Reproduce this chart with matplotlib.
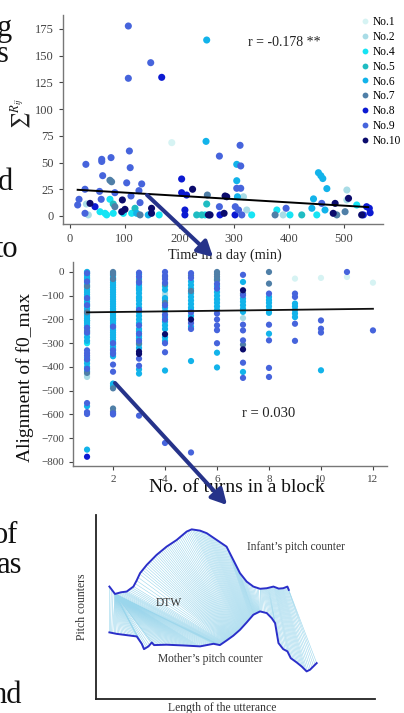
import numpy as np
import matplotlib
matplotlib.use('Agg')
import matplotlib.pyplot as plt
from matplotlib.patches import FancyArrowPatch, ArrowStyle
from matplotlib.collections import LineCollection
from matplotlib.lines import Line2D

plt.rcParams['font.family'] = ['Liberation Serif', 'DejaVu Serif']
plt.rcParams['mathtext.fontset'] = 'stix'

# ---------------- data ----------------
subject_ids = [1, 2, 4, 5, 6, 7, 8, 9, 10]
subject_labels = ['No.1', 'No.2', 'No.4', 'No.5', 'No.6', 'No.7', 'No.8', 'No.9', 'No.10']
subject_colors = ['#d6f3f3', '#a9dce6', '#16e4f4', '#1fbcc2', '#12b3ea',
                  '#4f7fa7', '#0c1ad2', '#4664dc', '#0b0b6c']

# top panel: time in a day (min) vs sum R_ij
time_min = [106.6, 249.8, 147.5, 106.6, 167.6, 186, 248.6, 310.8, 273, 108.5, 29, 58, 58, 75, 110,
            59.7, 73, 76, 103.6, 131, 304.7, 312, 304.7, 454, 458.4, 462, 469.4, 445, 204, 224,
            204, 213, 27.4, 54, 82, 126, 57, 16.5, 14, 30, 36.6, 45.7, 73, 79, 82, 95.7, 100.5,
            111.5, 128, 118.8, 112.7, 94.5, 97.5, 27.4, 33.5, 54.8, 64, 67, 79, 121.9, 128, 143,
            149, 149, 163, 210, 210, 231.5, 240.7, 246.8, 252.9, 255, 249.8, 251, 256, 273, 274,
            281.6, 283.4, 286.4, 304.7, 312, 306, 302, 308, 301.6, 314, 317, 323, 332, 378, 374.8,
            389.5, 394.9, 402, 423.5, 442, 451, 460, 466, 481, 484.5, 487.6, 506, 506, 509, 502.7,
            524, 533, 542, 547, 548.5, 536]
sum_rij = [177.7, 164.6, 143.4, 128.8, 129.7, 68.6, 69.8, 66.1, 56, 60.8, 48.3, 53, 51, 54.6, 45.2,
           37.7, 33.4, 32, 31, 30, 48.3, 46.8, 33, 40.5, 37.7, 35, 25.6, 16, 34.6, 25,
           21.8, 19.6, 25, 23, 21.8, 23.7, 15.6, 15.6, 10.3, 11.2, 11.8, 8.7, 15.6, 11.2, 8.7, 15, 6.2,
           18.7, 12.5, 7.2, 2.5, 4, 2.5, 2.5, 1, 4, 2.5, 1, 2.5, 2.5, 1, 1,
           2.5, 7.2, 1, 1, 5.6, 1, 1, 1, 1, 1, 11.2, 19.6, 1, 8.7, 1,
           2.5, 18.7, 18, 25.9, 25.9, 18, 8.7, 5.6, 1, 1, 18, 5.6, 1, 5.6, 1,
           1, 7.2, 1, 1, 7.2, 1, 11.8, 5.6, 2.5, 11.8, 1, 24.3, 15, 16.5, 4,
           10.3, 1, 8.7, 7.2, 3, 1]
top_subject = [9, 6, 9, 9, 8, 1, 6, 9, 9, 9, 9, 9, 9, 9, 9,
               9, 7, 7, 9, 9, 6, 9, 6, 6, 6, 6, 6, 6, 8, 10,
               8, 8, 9, 9, 9, 9, 9, 9, 9, 2, 10, 8, 4, 5, 7, 10, 10,
               9, 9, 5, 4, 10, 4, 9, 2, 4, 4, 4, 4, 6, 7, 6,
               10, 10, 4, 8, 8, 5, 5, 4, 10, 5, 5, 7, 10, 9, 8,
               10, 10, 10, 9, 9, 6, 9, 9, 8, 9, 2, 2, 4, 4, 7,
               2, 9, 4, 5, 6, 4, 9, 6, 10, 10, 7, 2, 2, 10, 7,
               4, 10, 8, 8, 8, 8]
top_reg_x = [14, 545]
top_reg_y = [24.5, 8.3]
top_r_text = 'r = -0.178 **'

# middle panel: No. of turns in a block vs alignment of f0_max (per column)
align_c1 = [0, -8, -16, -25, -35, -45, -55, -65, -75, -85, -95, -105, -115, -125, -135, -145, -155,
            -165, -175, -185, -195, -205, -215, -225, -235, -245, -260, -275, -290, -360, -372,
            -385, -400, -418, -565, -748,
            -5, -40, -110, -140, -235, -255, -330, -342, -352, -368, -408, -552, -590, -598,
            0, -180, -432, -442, -60, -170, -250, -425, -205, -30, -300, -778]
subj_c1 = [6] * 36 + [9] * 14 + [2] * 4 + [7] * 4 + [5] + [4] * 2 + [8]
align_c2 = [-5, -15, -25, -35, -45, -55, -65, -75, -85, -95, -105, -115, -125, -135, -145, -155,
            -165, -175, -185, -195, -205, -215, -225, -235, -245, -255, -265, -275, -285, -295,
            -305, -315, -325, -340, -355, -470, -480,
            0, -10, -30, -575, -588, -490,
            -230, -300, -330, -345, -390, -420, -595, -600, -160, -200]
subj_c2 = [6] * 37 + [7] * 6 + [9] * 8 + [2] + [4]
align_c3 = [-3, -20, -45, -160, -225, -260, -290, -365, -395, -605,
            -10, -30, -55, -65, -75, -90, -105, -120, -135, -150, -170, -185, -200, -215, -240,
            -250, -270, -280, -305, -320, -410, -428,
            -70, -110, -80, -40, -300, -335, -345]
subj_c3 = [9] * 10 + [6] * 22 + [5] * 2 + [2] + [7] * 2 + [10] * 2
align_c4 = [0, -15, -30, -45, -140, -180, -200, -300, -338, -720,
            -60, -75, -110, -120, -150, -165, -190, -210, -225, -240, -275, -290, -415,
            -90, -100, -20, -50, -130, -262]
subj_c4 = [9] * 10 + [6] * 13 + [2] * 2 + [7] * 3 + [10]
align_c5 = [-5, -25, -170, -215, -240, -760,
            -40, -55, -70, -90, -105, -120, -135, -150, -160, -185, -230, -375,
            -15, -80, -200]
subj_c5 = [9] * 6 + [6] * 12 + [7] * 2 + [10]
align_c6 = [0, -10, -20, -35, -50, -70, -175, -200, -225, -245, -300,
            -30, -60, -85, -100, -115, -130, -145, -160, -340, -402, -120]
subj_c6 = [7] * 4 + [9] * 7 + [6] * 10 + [2]
align_c7 = [-12, -98, -222, -246, -288, -382, -446, -42, -112, -125, -140, -155, -168, -421,
            -77, -326, -91, -306, -194]
subj_c7 = [9] * 7 + [6] * 7 + [10] * 2 + [7] * 2 + [2]
align_c8 = [0, -49, -91, -222, -288, -404, -442, -105, -118, -130, -145, -160, -172, -260]
subj_c8 = [7] * 2 + [9] * 5 + [6] * 7
align_c9 = [-28, -91, -105, -218, -290, -133, -145, -160, -175, -190]
subj_c9 = [1] + [9] * 4 + [6] * 5
align_c10 = [-25, -204, -239, -255, -414]
subj_c10 = [1, 9, 9, 9, 6]
align_c11 = [0, -21]
subj_c11 = [9, 1]
align_c12 = [-45, -246]
subj_c12 = [1, 9]
mid_reg_x = [1, 12]
mid_reg_y = [-170, -155]
mid_r_text = 'r = 0.030'

# bottom panel: DTW illustration (length of utterance vs pitch, arbitrary units)
infant_x = [4.8, 6.8, 9.0, 11.0, 13.4, 14.6, 15.8, 18.2, 21.7, 25.3, 28.9, 32.5, 34.3, 37.3, 39.7,
            43.3, 46.8, 49.2, 51.6, 54.0, 56.4, 58.8, 61.2, 63.6, 65.5, 67.1, 68.6, 69.1]
infant_y = [61.1, 57.1, 58.0, 58.4, 61.1, 64.5, 68.4, 72.9, 78.3, 82.8, 86.4, 91.0, 92.2, 91.5, 90.1,
            86.4, 82.8, 75.6, 68.4, 63.8, 61.1, 59.9, 60.2, 61.1, 60.0, 60.2, 61.1, 59.3]
mother_x = [4.8, 7.4, 11.0, 14.6, 16.4, 17.2, 18.8, 20.0, 20.8, 25.3, 31.3, 37.3, 42.1, 44.4, 46.8,
            49.2, 51.6, 54.0, 56.4, 58.8, 61.2, 63.0, 64.2, 64.8, 65.4, 67.1, 68.6, 69.8, 71.9,
            73.7, 75.5, 76.7, 79.1]
mother_y = [36.2, 35.4, 34.7, 34.0, 30.0, 27.1, 28.6, 30.7, 29.3, 29.5, 29.1, 28.6, 30.0, 29.3, 31.8,
            34.4, 37.6, 41.6, 45.8, 47.6, 46.7, 43.9, 41.2, 35.8, 30.4, 27.1, 25.9, 22.2, 19.9,
            17.7, 15.0, 15.9, 19.5]
# warping path anchors (infant position <-> mother position)
warp_infant = [4.8, 6.8, 6.8, 58.8, 69.1]
warp_mother = [4.8, 6.0, 44.0, 58.8, 79.1]

# ---------------- figure ----------------
W, H = 404, 713
fig = plt.figure(figsize=(W / 100, H / 100), dpi=100)


def px_box(l, t, r, b):
    return [l / W, 1 - b / H, (r - l) / W, (b - t) / H]


def fx(x):
    return x / W


def fy(y):
    return 1 - y / H


color_of = dict(zip(subject_ids, subject_colors))
tick_col = '#444444'
spine_col = '#777777'

# --- top panel ---
ax1 = fig.add_axes(px_box(63, 15, 383, 224))
tx = np.array(time_min)
ty = np.array(sum_rij)
ts = np.array(top_subject)
for sid in subject_ids:
    m = ts == sid
    ax1.scatter(tx[m], ty[m], s=26, color=color_of[sid], edgecolors='none', zorder=2)
ax1.plot(top_reg_x, top_reg_y, color='black', lw=1.4, zorder=3)
ax1.set_xlim(-12.8, 572)
ax1.set_ylim(-7.5, 188)
ax1.set_xticks([0, 100, 200, 300, 400, 500])
ax1.set_yticks([0, 25, 50, 75, 100, 125, 150, 175])
for s in ['top', 'right']:
    ax1.spines[s].set_visible(False)
for s in ['left', 'bottom']:
    ax1.spines[s].set_color(spine_col)
    ax1.spines[s].set_linewidth(1.0)
ax1.tick_params(labelsize=9, colors=tick_col, length=3, width=0.8)
ax1.text(325, 162, top_r_text, fontsize=10, va='center', ha='left', color='#222222')
fig.text(fx(225), fy(255), 'Time in a day (min)', fontsize=10.3, ha='center', va='center',
         color='#222222')
fig.text(fx(21), fy(113), r'$\sum{}^{R_{ij}}$', fontsize=13, rotation=90, ha='center',
         va='center', color='#222222')

handles = [Line2D([], [], ls='none', marker='o', markersize=4.2, markerfacecolor=c,
                  markeredgecolor='none') for c in subject_colors]
fig.legend(handles, subject_labels, loc='upper left', bbox_to_anchor=(fx(361), fy(16)),
           frameon=False, fontsize=8.3, handlelength=0.7, handletextpad=0.35,
           labelspacing=0.25, borderpad=0, borderaxespad=0)

# --- middle panel ---
ax2 = fig.add_axes(px_box(73, 262, 387, 466))
cols = [(1, align_c1, subj_c1), (2, align_c2, subj_c2), (3, align_c3, subj_c3),
        (4, align_c4, subj_c4), (5, align_c5, subj_c5), (6, align_c6, subj_c6),
        (7, align_c7, subj_c7), (8, align_c8, subj_c8), (9, align_c9, subj_c9),
        (10, align_c10, subj_c10), (11, align_c11, subj_c11), (12, align_c12, subj_c12)]
mx, my, ms = [], [], []
for t, a, sb in cols:
    mx += [t] * len(a)
    my += list(a)
    ms += list(sb)
mx = np.array(mx)
my = np.array(my)
ms = np.array(ms)
for sid in subject_ids:
    m = ms == sid
    ax2.scatter(mx[m], my[m], s=20, color=color_of[sid], edgecolors='none', zorder=2)
ax2.plot(mid_reg_x, mid_reg_y, color='#111111', lw=1.3, zorder=3)
ax2.set_xlim(0.46, 12.54)
ax2.set_ylim(-817, 42)
ax2.set_xticks([2, 4, 6, 8, 10, 12])
ax2.set_yticks([0, -100, -200, -300, -400, -500, -600, -700, -800])
for s in ['top', 'right']:
    ax2.spines[s].set_visible(False)
for s in ['left', 'bottom']:
    ax2.spines[s].set_color(spine_col)
    ax2.spines[s].set_linewidth(1.0)
ax2.tick_params(labelsize=8, colors=tick_col, length=3, width=0.8)
ax2.text(6.96, -598, mid_r_text, fontsize=10.5, va='center', ha='left', color='#222222')
fig.text(fx(25), fy(377), 'Alignment of f0_max', fontsize=14, rotation=90, ha='center',
         va='center', color='#111111')
fig.text(fx(237), fy(488), 'No. of turns in a block', fontsize=14, ha='center', va='center',
         color='#111111')

# --- bottom panel: DTW ---
ax3 = fig.add_axes(px_box(96, 515, 375, 699))
ax3.set_xlim(0, 100)
ax3.set_ylim(0, 100)
ax3.set_xticks([])
ax3.set_yticks([])
for s in ['top', 'right']:
    ax3.spines[s].set_visible(False)
for s in ['left', 'bottom']:
    ax3.spines[s].set_color('#222222')
    ax3.spines[s].set_linewidth(1.3)

segs = []
for i in range(len(warp_infant) - 1):
    i0, i1 = warp_infant[i], warp_infant[i + 1]
    m0, m1 = warp_mother[i], warp_mother[i + 1]
    n = max(2, int(max(abs(i1 - i0), abs(m1 - m0)) / 0.55))
    for t in np.linspace(0, 1, n, endpoint=False):
        xi = i0 + t * (i1 - i0)
        xm = m0 + t * (m1 - m0)
        segs.append([(xi, np.interp(xi, infant_x, infant_y)),
                     (xm, np.interp(xm, mother_x, mother_y))])
segs.append([(infant_x[-1], infant_y[-1]), (mother_x[-1], mother_y[-1])])
ax3.add_collection(LineCollection(segs, colors='#9ad6ec', linewidths=0.4, zorder=1))
ax3.plot(infant_x, infant_y, color='#2b2fc9', lw=1.4, zorder=3)
ax3.plot(mother_x, mother_y, color='#2b2fc9', lw=1.4, zorder=3)
ax3.text(54.0, 82.5, 'Infant\u2019s pitch counter', fontsize=8.3, ha='left', va='center',
         color='#333333')
ax3.text(22.1, 21.9, 'Mother\u2019s pitch counter', fontsize=8.3, ha='left', va='center',
         color='#333333')
ax3.text(21.4, 52.1, 'DTW', fontsize=8.3, ha='left', va='center', color='#333333')
fig.text(fx(82), fy(607), 'Pitch counters', fontsize=8.4, rotation=90, ha='center',
         va='center', color='#333333')
fig.text(fx(222), fy(708), 'Length of the utterance', fontsize=8.4, ha='center', va='center',
         color='#333333')

# --- cropped slide text on the left ---
left_words = ['g', 's', 'd', 'to', 'of', 'as', 'nd']
left_right_px = [12, 9, 13, 18, 18, 22, 22]
left_base_px = [36, 62, 190, 257, 543, 573, 703]
for w, xr, yb in zip(left_words, left_right_px, left_base_px):
    fig.text(fx(xr), fy(yb), w, fontsize=22, ha='right', va='baseline', color='#111111')

# --- arrows ---
astyle = ArrowStyle('-|>', head_length=0.65, head_width=0.35)
for (x0, y0), (x1, y1) in [((147, 195), (213, 257)), ((115, 383), (227, 505))]:
    arr = FancyArrowPatch((fx(x0), fy(y0)), (fx(x1), fy(y1)), transform=fig.transFigure,
                          arrowstyle=astyle, mutation_scale=14, lw=2.9, color='#26338a',
                          shrinkA=0, shrinkB=0, zorder=10)
    fig.add_artist(arr)

fig.savefig('out.png', dpi=100)
